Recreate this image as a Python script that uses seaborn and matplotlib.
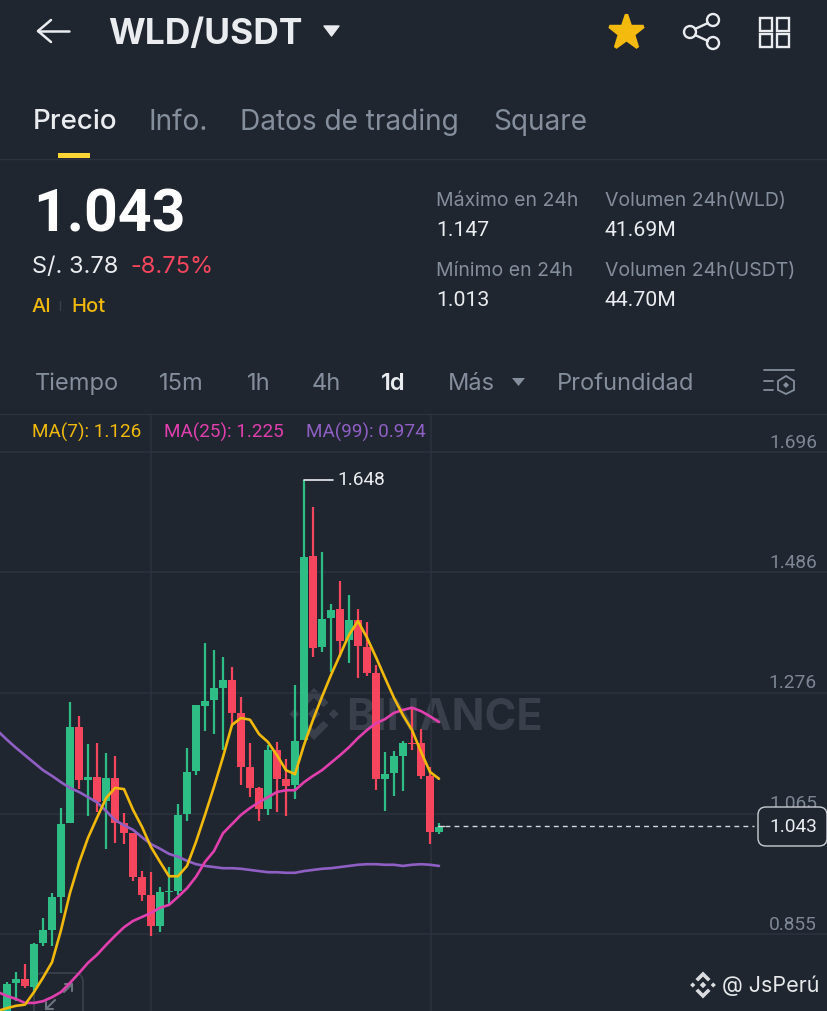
import numpy as np
import pandas as pd
import matplotlib
matplotlib.use("Agg")
import matplotlib.pyplot as plt
from matplotlib.patches import FancyBboxPatch, Polygon, Circle, Rectangle
import seaborn as sns

# ---------- data ----------
highs = [.772, .789, .803, .840, .883, .927, 1.075, 1.260, 1.235, 1.187, 1.188, 1.171, 1.166, 1.066, 1.031, .965, .963,
         .937, .972, 1.082, 1.180, 1.255, 1.363, 1.351, 1.338, 1.321, 1.269, 1.188, 1.112, 1.185, 1.190, 1.160, 1.290,
         1.648, 1.600, 1.522, 1.431, 1.471, 1.447, 1.422, 1.399, 1.324, 1.173, 1.174, 1.192, 1.250, 1.213, 1.147, 1.049]
lows = [.705, .738, .761, .754, .834, .834, .892, 1.049, 1.108, 1.061, 1.068, 1.004, 1.014, 1.012, .948, .913, .852,
        .859, .906, .923, 1.052, 1.133, 1.209, 1.204, 1.176, 1.220, 1.115, 1.094, 1.052, 1.063, 1.068, 1.061, 1.091,
        1.194, 1.338, 1.347, 1.312, 1.338, 1.328, 1.302, 1.305, 1.106, 1.070, 1.096, 1.105, 1.176, 1.126, 1.012, 1.030]
opens = [.714, .770, .777, .763, .840, .862, .920, 1.049, 1.216, 1.124, 1.129, 1.087, 1.127, 1.049, 1.031, .955, .923,
         .869, .929, .930, 1.065, 1.140, 1.253, 1.263, 1.284, 1.298, 1.241, 1.147, 1.110, 1.073, 1.176, 1.126, 1.115,
         1.194, 1.515, 1.356, 1.406, 1.422, 1.368, 1.403, 1.356, 1.310, 1.126, 1.136, 1.166, 1.188, 1.188, 1.131, 1.033]
closes = [.768, .777, .765, .838, .862, .920, 1.047, 1.216, 1.124, 1.129, 1.085, 1.127, 1.049, 1.031, .955, .923, .869,
          .929, .930, 1.063, 1.138, 1.255, 1.262, 1.284, 1.298, 1.241, 1.147, 1.110, 1.073, 1.176, 1.126, 1.113, 1.192,
          1.513, 1.354, 1.405, 1.420, 1.366, 1.403, 1.358, 1.310, 1.126, 1.134, 1.166, 1.188, 1.187, 1.131, 1.033, 1.042]

ma7 = [.721, .726, .730, .732, .754, .779, .806, .862, .927, .979, 1.023, 1.058, 1.092, 1.110, 1.108, 1.072, 1.042,
       1.007, .981, .956, .956, .974, 1.016, 1.063, 1.112, 1.164, 1.220, 1.232, 1.229, 1.204, 1.190, 1.167, 1.141,
       1.134, 1.185, 1.229, 1.269, 1.307, 1.342, 1.377, 1.401, 1.372, 1.338, 1.302, 1.267, 1.237, 1.211, 1.173, 1.138,
       1.126]
ma25 = [.754, .747, .742, .735, .735, .738, .745, .754, .770, .787, .805, .819, .836, .852, .867, .878, .885, .892,
        .901, .906, .920, .935, .955, .981, 1.000, 1.031, 1.047, 1.063, 1.075, 1.085, 1.094, 1.103, 1.106, 1.106, 1.120,
        1.131, 1.141, 1.154, 1.167, 1.181, 1.197, 1.211, 1.223, 1.230, 1.241, 1.246, 1.250, 1.244, 1.235, 1.225]
ma99 = [1.209, 1.194, 1.180, 1.167, 1.154, 1.141, 1.131, 1.120, 1.110, 1.103, 1.094, 1.085, 1.070, 1.054, 1.045, 1.037,
        1.024, 1.012, 1.004, .995, .990, .983, .977, .974, .972, .970, .970, .969, .967, .965, .963, .963, .962, .962,
        .965, .967, .969, .970, .972, .974, .976, .977, .977, .976, .976, .974, .976, .977, .976, .974]

price_ticks = [1.696, 1.486, 1.276, 1.065, 0.855]
last_price = 1.043
max_price = 1.648

BG = "#1F2630"
GRID = "#2D333E"
GREEN = "#2EBD85"
RED = "#F6465D"
YELLOW = "#F0B90B"
PINK = "#E23FAE"
PURPLE = "#8F5FC4"
WHITE = "#EAECEF"
GREY = "#848E9C"
NUM = ["Roboto", "DejaVu Sans"]  # tabular digits, closer to the app font

sns.set_theme(style="dark", rc={"axes.facecolor": BG, "figure.facecolor": BG})
plt.rcParams["font.family"] = ["Inter", "DejaVu Sans"]

W, H = 828, 1011
fig = plt.figure(figsize=(W / 100, H / 100), dpi=100)


def ui_axes(z):
    a = fig.add_axes([0, 0, 1, 1], zorder=z)
    a.set_xlim(0, W)
    a.set_ylim(H, 0)
    a.axis("off")
    return a


def binance_logo(a, cx, cy, s, color):
    # small diamonds + chevrons, s is half the logo height
    k = s / 10
    for dx, dy in [(0, 0), (-7.6, 0), (7.6, 0)]:
        r = 1.9 * k if dx else 2.4 * k
        a.add_patch(Polygon([(cx + dx * k - r, cy), (cx + dx * k, cy - r), (cx + dx * k + r, cy), (cx + dx * k, cy + r)],
                            color=color, lw=0))
    for sgn in (-1, 1):
        a.add_patch(Polygon([(cx, cy + sgn * 10 * k), (cx + 5.6 * k, cy + sgn * 4.4 * k), (cx + 3.6 * k, cy + sgn * 2.6 * k),
                             (cx, cy + sgn * 6.2 * k), (cx - 3.6 * k, cy + sgn * 2.6 * k), (cx - 5.6 * k, cy + sgn * 4.4 * k)],
                            color=color, lw=0))


# ---------- background layer: watermark, expand icon ----------
bg = ui_axes(0)
bg.set_facecolor(BG)
binance_logo(bg, 314, 714, 26, "#3A404B")
bg.text(346, 718, "BINANCE", color="#3A404B", fontsize=31, fontweight="bold", va="center", ha="left")
bg.add_patch(FancyBboxPatch((34, 973), 49, 50, boxstyle="round,pad=0,rounding_size=9", fc="none", ec="#3A404B", lw=1.3))
for pts in ([(64, 992), (72, 984)], [(65, 984), (72, 984), (72, 991)], [(55, 1000), (46, 1009)], [(46, 1002), (46, 1009), (53, 1009)]):
    xs, ys = zip(*pts)
    bg.plot(xs, ys, color="#6C7480", lw=1.5)

# ---------- chart ----------
ax = fig.add_axes([0, 0, 1, (H - 415) / H], zorder=1)
ax.patch.set_alpha(0)
ax.set_xlim(-7 / 9, (W - 7) / 9)
ax.set_ylim(1.696 - (H - 452) * 0.0017443, 1.696 + 37 * 0.0017443)
for s in ax.spines.values():
    s.set_visible(False)
ax.set_xticks([])
ax.set_yticks([])

for p in price_ticks:
    ax.axhline(p, color=GRID, lw=1.1, zorder=0)
ax.axvline(16, color=GRID, lw=1.1, zorder=0)
ax.axvline(47.1, color=GRID, lw=1.1, zorder=0)

df = pd.DataFrame({"day": np.arange(len(opens)), "open": opens, "close": closes, "high": highs, "low": lows})
df["color"] = np.where(df["close"] >= df["open"], GREEN, RED)

ax.vlines(df["day"], df["low"], df["high"], colors=df["color"], lw=1.6, zorder=2)
ax.bar(df["day"], (df["close"] - df["open"]).abs(), bottom=df[["open", "close"]].min(axis=1), width=0.78,
       color=df["color"], lw=0, zorder=2)

ma_days = np.arange(-1, len(opens))
sns.lineplot(x=ma_days, y=ma99, color=PURPLE, lw=1.9, ax=ax, zorder=3)
sns.lineplot(x=ma_days, y=ma25, color=PINK, lw=1.9, ax=ax, zorder=3)
sns.lineplot(x=ma_days, y=ma7, color=YELLOW, lw=1.9, ax=ax, zorder=4)
ax.set_xlabel("")
ax.set_ylabel("")

# price labels sit just above their grid lines, right aligned
ytrans = ax.get_yaxis_transform()
for p in price_ticks:
    ax.annotate(f"{p:.3f}", xy=(1, p), xycoords=ytrans, xytext=(-8, 0.3), textcoords="offset points", ha="right", va="bottom",
                color="#7D8694", fontsize=13.8, family=NUM)

# highest price marker
ax.plot([33, 36.2], [max_price, max_price], color=WHITE, lw=1.2, zorder=5)
ax.text(36.7, max_price, f"{max_price:.3f}", color=WHITE, fontsize=13.8, va="center", ha="left", zorder=5, family=NUM)

# last price line and box
ax.plot([48.7, 83], [last_price, last_price], color="#D5D8DC", lw=1, ls=(0, (3.5, 3)), zorder=5)
ax.plot([47.9, 48.6], [last_price, last_price], color="#D5D8DC", lw=1, zorder=5)

# ---------- app chrome ----------
ui = ui_axes(2)

# top bar
ui.plot([38, 69], [31, 31], color=WHITE, lw=1.8, solid_capstyle="round")
ui.plot([51, 38, 51], [20, 31, 42], color=WHITE, lw=1.8, solid_capstyle="round", solid_joinstyle="round")
ui.text(108, 34, "WLD/USDT", color=WHITE, fontsize=25.5, fontweight="bold", va="center", ha="left")
ui.add_patch(Polygon([(324, 26), (339, 26), (331.5, 36)], color=WHITE, lw=1, joinstyle="round"))
ui.plot([626], [32], marker="*", ms=26, color="#F5BA0E", mec="#F5BA0E", mew=2.5)
for cx, cy in [(690, 32), (713, 20), (713, 43)]:
    ui.add_patch(Circle((cx, cy), 6, fc="none", ec=WHITE, lw=1.7))
ui.plot([695, 708], [29, 23], color=WHITE, lw=1.7)
ui.plot([695, 708], [35, 41], color=WHITE, lw=1.7)
for x0 in (760, 777):
    for y0 in (18, 34):
        ui.add_patch(Rectangle((x0, y0), 12.5, 12.5, fc="none", ec=WHITE, lw=1.7))

# tabs
ui.text(33, 122, "Precio", color=WHITE, fontsize=20, va="center", ha="left", fontweight="medium")
for x, s in [(149, "Info."), (240, "Datos de trading"), (493, "Square")]:
    ui.text(x, 122, s, color=GREY, fontsize=20.2, va="center", ha="left")
ui.add_patch(Rectangle((58, 153), 32, 5, color="#FCD535", lw=0))
ui.plot([0, W], [158.5, 158.5], color=GRID, lw=1)

# price block
ui.text(33, 216, "1.043", color="white", fontsize=42.5, fontweight="bold", va="center", ha="left", family=NUM)
ui.text(32, 267, "S/. 3.78", color=WHITE, fontsize=17, va="center", ha="left")
ui.text(130, 267, "-8.75%", color=RED, fontsize=17, va="center", ha="left")
ui.text(32, 307, "AI", color=YELLOW, fontsize=14.5, va="center", ha="left", fontweight="medium")
ui.plot([60.5, 60.5], [301, 310], color="#3A404B", lw=1)
ui.text(71, 307, "Hot", color=YELLOW, fontsize=14.5, va="center", ha="left", fontweight="medium")

for x, y, s in [(436, 201, "Máximo en 24h"), (605, 201, "Volumen 24h(WLD)"), (436, 271, "Mínimo en 24h"), (605, 271, "Volumen 24h(USDT)")]:
    ui.text(x, y, s, color=GREY, fontsize=14, va="center", ha="left")
for x, y, s in [(436, 230, "1.147"), (605, 230, "41.69M"), (436, 300, "1.013"), (605, 300, "44.70M")]:
    ui.text(x, y, s, color=WHITE, fontsize=15.3, va="center", ha="left", family=NUM)

# interval row
for x, s in [(35, "Tiempo"), (159, "15m"), (247, "1h"), (312, "4h"), (448, "Más"), (557, "Profundidad")]:
    ui.text(x, 384, s, color=GREY, fontsize=17, va="center", ha="left")
ui.text(381, 384, "1d", color=WHITE, fontsize=17, fontweight="semibold", va="center", ha="left")
ui.add_patch(Polygon([(512, 378), (525, 378), (518.5, 386)], color=GREY, lw=0))
ui.plot([764, 794], [370, 370], color=GREY, lw=1.3)
ui.plot([764, 773], [381, 381], color=GREY, lw=1.3)
ui.plot([764, 773], [390, 390], color=GREY, lw=1.3)
ui.add_patch(Polygon([(786, 376), (794, 381), (794, 390), (786, 394), (778, 390), (778, 381)], fc="none", ec=GREY, lw=1.3))
ui.add_patch(Polygon([(786, 382), (789, 385), (786, 388), (783, 385)], color=GREY, lw=0))
ui.plot([0, W], [413.5, 413.5], color=GRID, lw=1)

# moving average legend
ui.text(32, 432, f"MA(7): {ma7[-1]:.3f}", color=YELLOW, fontsize=13.6, va="center", ha="left", family=NUM)
ui.text(164, 432, f"MA(25): {ma25[-1]:.3f}", color=PINK, fontsize=13.6, va="center", ha="left", family=NUM)
ui.text(306, 432, f"MA(99): {ma99[-1]:.3f}", color=PURPLE, fontsize=13.6, va="center", ha="left", family=NUM)

# last price box
ui.add_patch(FancyBboxPatch((758, 807), 69, 39, boxstyle="round,pad=0,rounding_size=8", fc=BG, ec="#C9CDD3", lw=1))
ui.text(793, 827, f"{last_price:.3f}", color=WHITE, fontsize=13.8, va="center", ha="center", family=NUM)

# credit
binance_logo(ui, 703, 985, 13.5, "#DADCE0")
ui.text(722, 986, "@ JsPerú", color="#E6E8EA", fontsize=15.5, va="center", ha="left")

fig.savefig("out.png", dpi=100, facecolor=BG)
